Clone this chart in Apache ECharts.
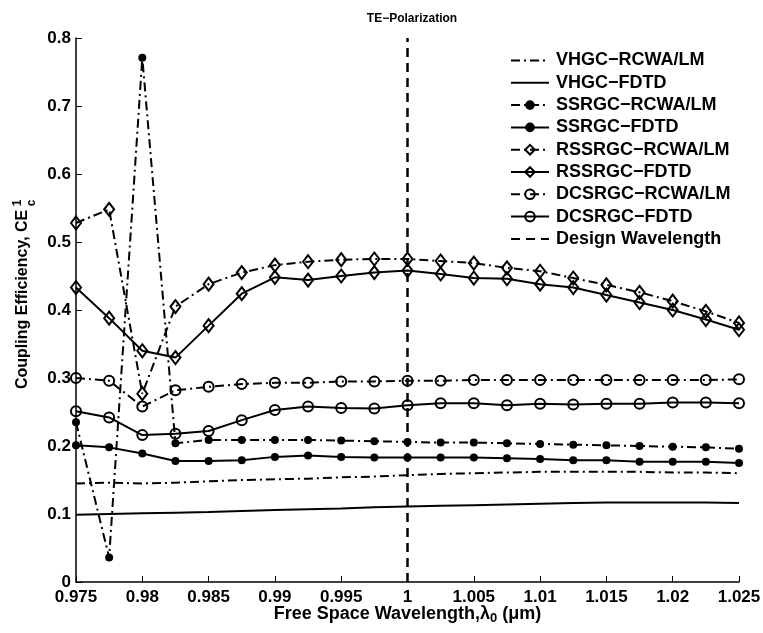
<!DOCTYPE html>
<html>
<head>
<meta charset="utf-8">
<script src="https://cdn.jsdelivr.net/npm/echarts@6/dist/echarts.min.js"></script>
<style>
html,body{margin:0;padding:0;background:#fff;}
#main{width:763px;height:633px;}
</style>
</head>
<body>
<div id="main"></div>
<script>
const wavelengths = [0.975, 0.9775, 0.98, 0.9825, 0.985, 0.9875, 0.99, 0.9925, 0.995, 0.9975, 1.0, 1.0025, 1.005, 1.0075, 1.01, 1.0125, 1.015, 1.0175, 1.02, 1.0225, 1.025];
const vhgcRcwa = [0.145, 0.146, 0.145, 0.146, 0.148, 0.150, 0.151, 0.152, 0.154, 0.155, 0.157, 0.159, 0.160, 0.161, 0.162, 0.162, 0.162, 0.162, 0.161, 0.161, 0.160];
const vhgcFdtd = [0.099, 0.100, 0.101, 0.102, 0.103, 0.1045, 0.106, 0.107, 0.108, 0.110, 0.111, 0.112, 0.113, 0.114, 0.115, 0.116, 0.117, 0.117, 0.117, 0.117, 0.116];
const ssrgcRcwa = [0.235, 0.036, 0.771, 0.204, 0.209, 0.209, 0.209, 0.209, 0.208, 0.207, 0.206, 0.205, 0.205, 0.204, 0.203, 0.202, 0.201, 0.200, 0.199, 0.198, 0.196];
const ssrgcFdtd = [0.201, 0.198, 0.189, 0.178, 0.178, 0.179, 0.184, 0.186, 0.184, 0.183, 0.183, 0.183, 0.183, 0.182, 0.181, 0.179, 0.179, 0.177, 0.177, 0.177, 0.175];
const rssrgcRcwa = [0.528, 0.548, 0.277, 0.405, 0.438, 0.455, 0.466, 0.471, 0.474, 0.475, 0.475, 0.472, 0.469, 0.462, 0.457, 0.447, 0.437, 0.426, 0.413, 0.398, 0.381];
const rssrgcFdtd = [0.433, 0.388, 0.340, 0.330, 0.377, 0.424, 0.448, 0.444, 0.450, 0.455, 0.458, 0.453, 0.447, 0.446, 0.438, 0.433, 0.422, 0.411, 0.400, 0.386, 0.371];
const dcsrgcRcwa = [0.300, 0.296, 0.258, 0.282, 0.287, 0.291, 0.293, 0.293, 0.295, 0.295, 0.296, 0.296, 0.297, 0.297, 0.297, 0.297, 0.297, 0.297, 0.297, 0.297, 0.298];
const dcsrgcFdtd = [0.251, 0.242, 0.216, 0.218, 0.222, 0.238, 0.253, 0.258, 0.256, 0.255, 0.260, 0.263, 0.263, 0.260, 0.262, 0.261, 0.262, 0.262, 0.264, 0.264, 0.263];
const designWavelength = 1.0;
const designRange = [0, 0.8];
const seriesNames = ['VHGC\u2212RCWA/LM', 'VHGC\u2212FDTD', 'SSRGC\u2212RCWA/LM', 'SSRGC\u2212FDTD', 'RSSRGC\u2212RCWA/LM', 'RSSRGC\u2212FDTD', 'DCSRGC\u2212RCWA/LM', 'DCSRGC\u2212FDTD', 'Design Wavelength'];

const FONT = 'Liberation Sans, Arial, sans-serif';
const dashDot = [9, 4, 2, 4];
const pair = ys => wavelengths.map((x, i) => [x, ys[i]]);

function mk(name, ys, dash, symbol, size, filled) {
  const hasSym = !!symbol;
  return {
    name: name, type: 'line', data: pair(ys),
    symbol: symbol || 'none', symbolSize: size || 0, showSymbol: hasSym,
    lineStyle: { color: '#000', width: 2, type: dash },
    itemStyle: hasSym
      ? { color: filled ? '#000' : 'rgba(255,255,255,0)', borderColor: '#000', borderWidth: filled ? 0 : 2 }
      : { color: 'rgba(0,0,0,0)', borderColor: 'rgba(0,0,0,0)', borderWidth: 0 },
    emphasis: { disabled: true }, animation: false, z: 3
  };
}

const chart = echarts.init(document.getElementById('main'), null, { renderer: 'canvas' });
const option = {
  backgroundColor: '#fff',
  animation: false,
  title: {
    text: 'TE\u2212Polarization', left: 407, top: 8, textAlign: 'center',
    textStyle: { fontFamily: FONT, fontWeight: 'bold', fontSize: 12, color: '#000' }
  },
  grid: { left: 76, right: 24, top: 38, bottom: 51, containLabel: false, outerBoundsMode: 'none' },
  legend: {
    orient: 'vertical', left: 505, top: 46.5,
    itemWidth: 38, itemHeight: 12, itemGap: 4.3,
    data: seriesNames,
    textStyle: { fontFamily: FONT, fontWeight: 'bold', fontSize: 18, lineHeight: 18, color: '#000', padding: [0, 0, 0, 2] },
    selectedMode: false
  },
  xAxis: {
    type: 'value', min: 0.975, max: 1.025, interval: 0.005,
    axisLine: { lineStyle: { color: '#000', width: 1.5 } },
    axisTick: { inside: true, length: 6, lineStyle: { color: '#000', width: 1 } },
    splitLine: { show: false },
    axisLabel: { fontFamily: FONT, fontWeight: 'bold', fontSize: 17, color: '#000', margin: 7,
      formatter: v => String(parseFloat(v.toFixed(4))) },
    name: 'Free Space Wavelength,\u03bb{sub|0} (\u03bcm)', nameLocation: 'middle', nameGap: 21,
    nameMoveOverlap: false,
    nameTextStyle: { fontFamily: FONT, fontWeight: 'bold', fontSize: 18, color: '#000',
      rich: { sub: { fontFamily: FONT, fontWeight: 'bold', fontSize: 13, color: '#000', verticalAlign: 'bottom', padding: [9, 0, 0, 0] } } }
  },
  yAxis: {
    type: 'value', min: 0, max: 0.8, interval: 0.1,
    axisLine: { show: true, lineStyle: { color: '#000', width: 1.5 } },
    axisTick: { show: true, inside: true, length: 6, lineStyle: { color: '#000', width: 1 } },
    splitLine: { show: false },
    axisLabel: { fontFamily: FONT, fontWeight: 'bold', fontSize: 17, color: '#000', margin: 5,
      formatter: v => String(parseFloat(v.toFixed(3))) }
  },
  graphic: [
    { type: 'text', x: 23, y: 389, rotation: Math.PI / 2,
      style: { text: 'Coupling Efficiency, CE', fontFamily: FONT, fontWeight: 'bold', fontSize: 16, fill: '#000', textAlign: 'left', textVerticalAlign: 'middle' } },
    { type: 'text', x: 18, y: 203, rotation: Math.PI / 2,
      style: { text: '1', fontFamily: FONT, fontWeight: 'bold', fontSize: 12, fill: '#000', textAlign: 'center', textVerticalAlign: 'middle' } },
    { type: 'text', x: 32, y: 203, rotation: Math.PI / 2,
      style: { text: 'c', fontFamily: FONT, fontWeight: 'bold', fontSize: 12, fill: '#000', textAlign: 'center', textVerticalAlign: 'middle' } }
  ],
  series: [
    mk(seriesNames[0], vhgcRcwa, dashDot),
    mk(seriesNames[1], vhgcFdtd, 'solid'),
    mk(seriesNames[2], ssrgcRcwa, dashDot, 'circle', 8, true),
    mk(seriesNames[3], ssrgcFdtd, 'solid', 'circle', 8, true),
    mk(seriesNames[4], rssrgcRcwa, dashDot, 'diamond', [10, 13], false),
    mk(seriesNames[5], rssrgcFdtd, 'solid', 'diamond', [10, 13], false),
    mk(seriesNames[6], dcsrgcRcwa, dashDot, 'circle', 10, false),
    mk(seriesNames[7], dcsrgcFdtd, 'solid', 'circle', 10, false),
    {
      name: seriesNames[8], type: 'line', symbol: 'none', showSymbol: false,
      data: designRange.map(y => [designWavelength, y]),
      lineStyle: { color: '#000', width: 2.5, type: [9, 6] },
      itemStyle: { color: 'rgba(0,0,0,0)', borderWidth: 0 }, animation: false, z: 2, emphasis: { disabled: true }
    }
  ]
};
chart.setOption(option);
</script>
</body>
</html>
